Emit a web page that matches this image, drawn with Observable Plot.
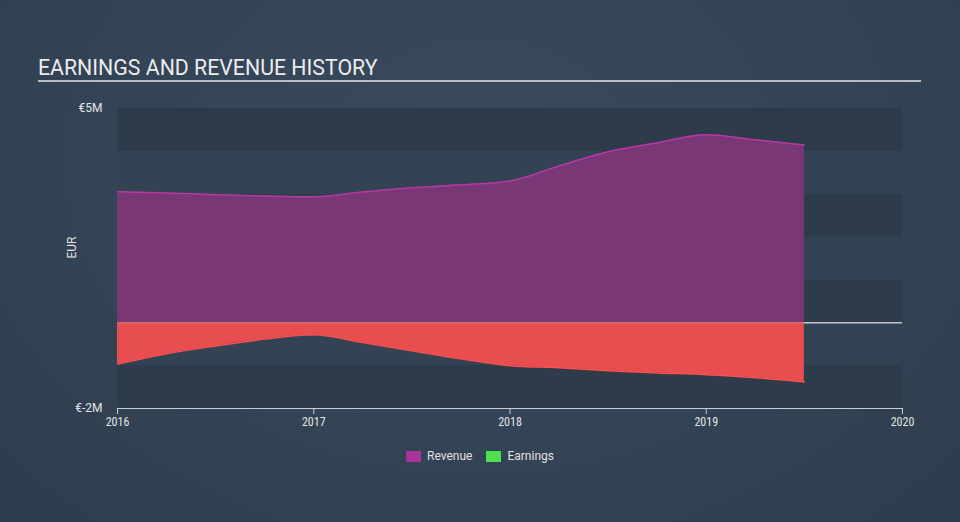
<!DOCTYPE html>
<html>
<head>
<meta charset="utf-8">
<script src="https://cdn.jsdelivr.net/npm/d3@7"></script>
<script src="https://cdn.jsdelivr.net/npm/@observablehq/plot@0.6"></script>
<style>
  html, body { margin: 0; padding: 0; }
  body { width: 960px; height: 522px; overflow: hidden;
    background: radial-gradient(ellipse at 50% 30%, #384a5c 0%, #334456 55%, #2e3d4d 100%);
    font-family: Roboto, "Noto Sans", sans-serif; }
  #wrap { position: relative; width: 960px; height: 522px; }
  #title { position: absolute; left: 38px; top: 55px; font-size: 21.3px; color: #ececec; letter-spacing: 0px; }
  #rule { position: absolute; left: 38px; top: 80px; width: 883px; height: 2px; background: #b9bcc0; }
  #legend { position: absolute; top: 449px; left: 0; width: 960px; text-align: center; font-size: 12px; color: #e0e0e0; }
  #legend span.item { display: inline-flex; align-items: center; margin: 0 7px; }
  #legend span.sw { display: inline-block; width: 15px; height: 11px; margin-right: 6px; }
  #chart { position: absolute; left: 0; top: 0; }
</style>
</head>
<body>
<div id="wrap">
  <div id="chart"></div>
  <div id="title">EARNINGS AND REVENUE HISTORY</div>
  <div id="rule"></div>
  <div id="legend"></div>
</div>
<script>
// Data (values in millions of EUR)
const dates = [2016.0, 2016.25, 2016.5, 2016.75, 2017.0, 2017.25, 2017.5, 2017.75, 2018.0, 2018.25, 2018.5, 2018.75, 2019.0, 2019.25, 2019.5];
const revenue = [3.06, 3.03, 2.99, 2.96, 2.94, 3.05, 3.15, 3.22, 3.31, 3.66, 3.99, 4.20, 4.39, 4.27, 4.15];
const earnings = [-0.96, -0.72, -0.54, -0.38, -0.28, -0.46, -0.65, -0.84, -1.00, -1.05, -1.12, -1.17, -1.21, -1.28, -1.38];
const yTicks = [-2, -1, 0, 1, 2, 3, 4, 5];
const yLabelTicks = [-2, 5];
const xTicks = [2016, 2017, 2018, 2019, 2020];
const seriesNames = ["Revenue", "Earnings"];
const legendColors = ["#a9339a", "#4fe04f"];

const revData = dates.map((d, i) => ({date: d, value: revenue[i]}));
const earnData = dates.map((d, i) => ({date: d, value: earnings[i]}));
const bands = yTicks.slice(0, -1).map((t, i) => ({y1: t, y2: yTicks[i + 1], dark: (yTicks.length - 2 - i) % 2 === 0}));
const lastDate = dates[dates.length - 1];

const curve = "monotone-x";
const chart = Plot.plot({
  width: 960,
  height: 522,
  marginLeft: 117,
  marginRight: 58,
  marginTop: 108,
  marginBottom: 114,
  style: {background: "transparent", color: "#e0e0e0", fontFamily: "Roboto, sans-serif", fontSize: "12px", overflow: "visible"},
  x: {domain: [xTicks[0], xTicks[xTicks.length - 1]]},
  y: {domain: [yTicks[0], yTicks[yTicks.length - 1]]},
  marks: [
    Plot.rect(bands, {y1: "y1", y2: "y2", fill: d => d.dark ? "#2d3b4a" : "#334354"}),
    Plot.areaY(revData, {x: "date", y1: 0, y2: "value", fill: "#793775", curve}),
    Plot.areaY(earnData, {x: "date", y1: 0, y2: "value", fill: "#e84e4f", curve}),
    Plot.lineY(revData, {x: "date", y: "value", stroke: "#b43aa0", strokeWidth: 1.5, curve}),
    Plot.lineY(earnData, {x: "date", y: "value", stroke: "#ff4f4f", strokeWidth: 1.5, curve}),
    Plot.ruleY([0], {stroke: "#ffffff", strokeOpacity: 0.25, strokeWidth: 1}),
    Plot.ruleY([0], {x1: lastDate, x2: xTicks[xTicks.length - 1], stroke: "#c2c4c8", strokeWidth: 1.5}),
    Plot.ruleY([yTicks[0]], {stroke: "#c9ced6", strokeWidth: 1}),
    Plot.axisX({ticks: xTicks, tickFormat: d => String(d), tickSize: 6, tickPadding: 3, stroke: "#c9ced6",
      fontFamily: "'Roboto Condensed', 'Liberation Sans Narrow', Roboto, sans-serif", fontSize: 12, fill: "#e4e4e4", label: null}),
    Plot.axisY({ticks: yLabelTicks, tickFormat: d => "€" + d + "M", tickSize: 0, tickPadding: 15, fill: "#e4e4e4", fontSize: 12, label: null}),
    Plot.text(["EUR"], {frameAnchor: "left", dx: -45, rotate: -90, fill: "#e4e4e4", fontSize: 12})
  ]
});
document.getElementById("chart").appendChild(chart);

const legend = document.getElementById("legend");
seriesNames.forEach((n, i) => {
  const item = document.createElement("span");
  item.className = "item";
  const sw = document.createElement("span");
  sw.className = "sw";
  sw.style.background = legendColors[i];
  item.appendChild(sw);
  item.appendChild(document.createTextNode(n));
  legend.appendChild(item);
});
</script>
</body>
</html>
